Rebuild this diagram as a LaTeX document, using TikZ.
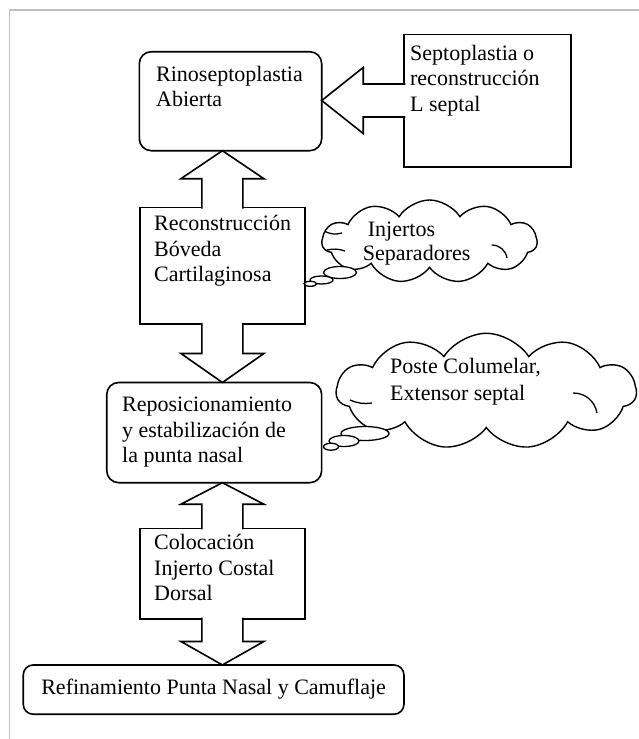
\documentclass[tikz,border=0pt]{standalone}
\usepackage{fontspec}
\setmainfont{Liberation Serif}
\usetikzlibrary{positioning,shapes.geometric,shapes.symbols,calc}

\begin{document}
\begin{tikzpicture}[%
    x=1pt,
    y=-1pt,
    font=\fontsize{22}{25.5}\selectfont,
    box/.style={%
      rectangle,
      draw,
      line width=1.6pt,
      outer sep=0pt,
      inner sep=0pt
    },
    rbox/.style={box, rounded corners=12pt},
    txt/.style={anchor=base west, align=left, inner sep=0pt},
    barrow/.style={draw, fill=white, line width=1.6pt, line join=miter},
    thought/.style={%
      cloud,
      cloud puffs=11,
      cloud puff arc=115,
      cloud ignores aspect,
      draw,
      fill=white,
      line width=1.4pt,
      inner sep=0pt
    },
    bubble/.style={ellipse, draw, fill=white, line width=1.3pt, inner sep=0pt},
    puffline/.style={line width=1.3pt},
    frame/.style={draw=black!25, line width=1.5pt}
  ]
    \useasboundingbox (0,0) rectangle (639,739);
    \draw[frame] (9.3,739) -- (9.3,10) -- (639,10);

    % boxes
    \node[rbox, minimum width=182.4pt, minimum height=99pt] (rino) at (230.5,101.2) {};
    \node[box, minimum width=166.7pt, minimum height=132.4pt] (septo) at (487.6,100.5) {};
    \node[box, minimum width=165.2pt, minimum height=116.3pt] (recon) at (222.4,265.8) {};
    \node[rbox, minimum width=214.9pt, minimum height=100.2pt] (repo) at (214.2,432.6) {};
    \node[box, minimum width=165.2pt, minimum height=90.4pt] (coloc) at (222.4,573.5) {};
    \node[rbox, rounded corners=10pt, minimum width=380.7pt, minimum height=49.3pt]
      (refin) at (213.6,689.6) {Refinamiento Punta Nasal y Camuflaje};

    % block arrows
    \coordinate (t0) at (rino.east |- septo.west);
    \filldraw[barrow] ($(septo.west)+(1,-16.5)$) -- ($(t0)+(41.5,-16.5)$)
      -- ($(t0)+(41.5,-33)$) -- (t0) -- ($(t0)+(41.5,33)$)
      -- ($(t0)+(41.5,16.5)$) -- ($(septo.west)+(1,16.5)$);
    \foreach \a/\b/\h in {recon.north/rino.south/28, recon.south/repo.north/-29,
                          coloc.north/repo.south/21.5, coloc.south/refin.north/-23.5}
      \filldraw[barrow] ($(\a)+(-20.5,{sign(\h)})$) -- ($(\a |- \b)+(-20.5,\h)$)
        -- ($(\a |- \b)+(-41.5,\h)$) -- (\a |- \b) -- ($(\a |- \b)+(41.5,\h)$)
        -- ($(\a |- \b)+(20.5,\h)$) -- ($(\a)+(20.5,{sign(\h)})$);

    % texts (anchored on the baseline of their last line)
    \node[txt] (rinotxt) at ($(rino.north west)+(16.7,54.8)$) {Rinoseptoplastia\\Abierta};
    \node[txt] (septotxt) at ($(septo.north west)+(5.7,76.7)$) {Septoplastia o\\reconstrucción\\L septal};
    \node[txt] (recontxt) at ($(recon.north west)+(14.2,74)$) {Reconstrucción\\Bóveda\\Cartilaginosa};
    \node[txt] (repotxt) at ($(repo.north west)+(15.2,80.2)$) {Reposicionamiento\\y estabilización de\\la punta nasal};
    \node[txt] (coloctxt) at ($(coloc.north west)+(14.2,72.4)$) {Colocación\\Injerto Costal\\Dorsal};

    % clouds
    \node[thought, minimum width=215pt, minimum height=83pt] (injcloud) at (429.5,241.5) {};
    \draw[puffline] (325,231.5) to[bend right=20] (342,233);
    \draw[puffline] (327,250) to[bend left=15] (345,251);
    \draw[puffline] (491.7,245) to[bend left=40] (507,258);
    \node[bubble, minimum width=33pt, minimum height=12pt] (inj1) at (340,272.5) {};
    \node[bubble, minimum width=23pt, minimum height=8pt] (inj2) at (321.5,280) {};
    \node[bubble, minimum width=12.6pt, minimum height=5pt] (inj3) at (310.3,283.8) {};
    \node[txt] (injtxt) at ($(injcloud.center)+(-66.8,18.5)$) {\hspace*{5pt}Injertos\\[-2pt]Separadores};

    \node[thought, minimum width=300pt, minimum height=116pt] (postecloud) at (486.3,391.3) {};
    \draw[puffline] (350,400) to[bend right=15] (372,403);
    \draw[puffline] (573,393) to[bend left=40] (597,413);
    \node[bubble, minimum width=48pt, minimum height=14pt] (poste1) at (365,433.5) {};
    \node[bubble, minimum width=30pt, minimum height=11pt] (poste2) at (344,441) {};
    \node[bubble, minimum width=15pt, minimum height=7pt] (poste3) at (331,446.7) {};
    \node[txt] (postetxt) at ($(postecloud.center)+(-96.3,9.4)$) {Poste Columelar,\\[1.5pt]Extensor septal};
\end{tikzpicture}
\end{document}
